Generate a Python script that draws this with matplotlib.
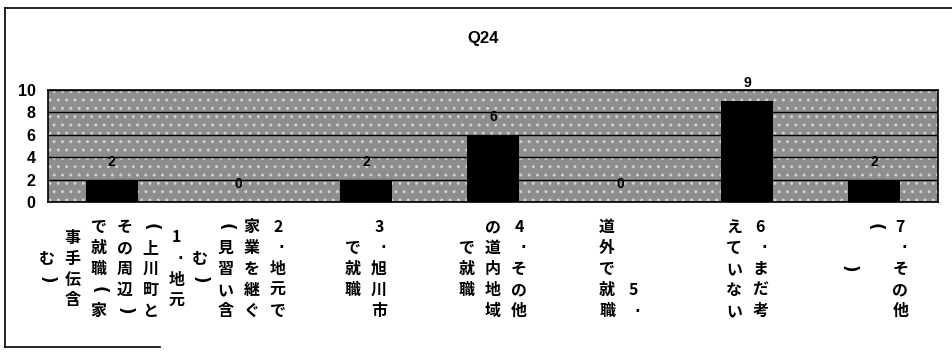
import matplotlib
matplotlib.use("Agg")
import matplotlib.pyplot as plt
from matplotlib.lines import Line2D
from matplotlib.patches import Rectangle

# data
values = [2, 0, 2, 6, 0, 9, 2]
y_ticks = [0, 2, 4, 6, 8, 10]
title = "Q24"

# category labels, written top-to-bottom in columns, listed right to left
label_columns = [
    ["1．地元", "（上川町と", "その周辺）", "で就職（家", "事手伝含", "む）"],
    ["2．地元で", "家業を継ぐ", "（見習い含", "む）"],
    ["3．旭川市", "で就職"],
    ["4．その他", "の道内地域", "で就職"],
    ["　　　5．", "道外で就職"],
    ["6．まだ考", "えていない"],
    ["7．その他", "（　　　　", "　）　"],
]

# how the odd characters are drawn in stacked (vertical) text
special = {
    "（": dict(s="(", rotation=-90, family="DejaVu Sans", fontsize=12),
    "）": dict(s=")", rotation=-90, family="DejaVu Sans", fontsize=12),
    "．": dict(s="·", rotation=0, family="DejaVu Sans", fontsize=11),
}

fig = plt.figure(figsize=(9.53, 3.55), dpi=100)
ax = fig.add_axes([48 / 953, 1 - 202 / 355, 890 / 953, 112 / 355])

x = range(len(values))
# dithered grey plot area
ax.add_patch(Rectangle((0, 0), 1, 1, transform=ax.transAxes, facecolor="#8e8e8e",
                       edgecolor="#cfcfcf", hatch="..", lw=0, zorder=0))
ax.bar(x, values, width=0.41, color="black", zorder=3)
ax.set_xlim(-0.5, len(values) - 0.5)
ax.set_ylim(0, 10)
ax.set_yticks(y_ticks)
ax.set_yticklabels([str(t) for t in y_ticks], fontsize=11.5,
                   fontweight="bold", family="Liberation Sans")
ax.tick_params(axis="y", length=0, pad=9)
ax.set_xticks([])
ax.yaxis.grid(True, color="black", linewidth=1.0, zorder=1)
ax.set_axisbelow(True)
for s in ax.spines.values():
    s.set_color("black")
    s.set_linewidth(1.2)

# value labels
for i, v in enumerate(values):
    ax.annotate(str(v), xy=(i, v), xytext=(0, 18), textcoords="offset pixels",
                ha="center", va="center", fontsize=10, fontweight="bold",
                family="Liberation Sans", zorder=4, annotation_clip=False)

# stacked vertical category labels
col_pitch = 26
row_pitch = 21
block_center = -67
for i, cols in enumerate(label_columns):
    n = len(cols)
    for j, col in enumerate(cols):
        dx = (n - 1) / 2 * col_pitch - j * col_pitch
        m = len(col)
        for k, ch in enumerate(col):
            if ch == "　":
                continue
            dy = block_center - (k - (m - 1) / 2) * row_pitch
            sty = special.get(ch, dict(s=ch, rotation=0, fontsize=11.5,
                                       family=["Noto Sans CJK JP", "DejaVu Sans"]))
            ddx = 4 if ch == "．" else 0
            ax.annotate(sty["s"], xy=(i, 0),
                        xycoords=("data", "axes fraction"),
                        xytext=(dx + ddx, dy), textcoords="offset pixels",
                        ha="center", va="center", fontsize=sty["fontsize"],
                        rotation=sty["rotation"], fontweight="bold",
                        family=sty["family"], annotation_clip=False)

fig.text(483 / 953, 1 - 38 / 355, title, ha="center", va="center",
         fontsize=12, fontweight="bold", family="Liberation Sans")

# outer chart frame
fx = lambda px: px / 953
fy = lambda py: 1 - py / 355
fig.add_artist(Line2D([fx(5), fx(5)], [fy(8), fy(347)], color="black", lw=1.2))
fig.add_artist(Line2D([fx(5), fx(952)], [fy(8), fy(8)], color="black", lw=1.2))
fig.add_artist(Line2D([fx(5), fx(160)], [fy(347), fy(347)], color="black", lw=1.2))

fig.savefig("out.png", dpi=100)
